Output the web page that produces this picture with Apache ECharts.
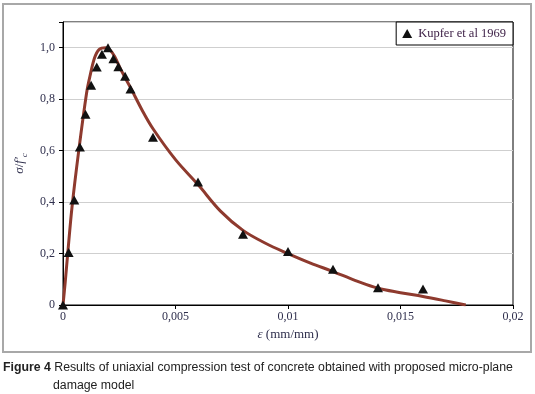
<!DOCTYPE html>
<html>
<head>
<meta charset="utf-8">
<script src="https://cdn.jsdelivr.net/npm/echarts@6/dist/echarts.min.js"></script>
<style>
  html, body { margin: 0; padding: 0; background: #fff; }
  #chart { width: 535px; height: 394px; }
</style>
</head>
<body>
<div id="chart"></div>
<script>
// test points (Kupfer et al 1969)
const testStrain = [0, 0.00025, 0.0005, 0.00075, 0.001, 0.00125, 0.0015, 0.00173, 0.002, 0.00224,
  0.00246, 0.00276, 0.003, 0.004, 0.006, 0.008, 0.010, 0.012, 0.014, 0.016];
const testStress = [0, 0.204, 0.408, 0.614, 0.741, 0.854, 0.925, 0.975, 1.0, 0.957,
  0.926, 0.889, 0.84, 0.652, 0.478, 0.275, 0.208, 0.139, 0.067, 0.062];

// model curve
const modelStrain = [0, 0.0001, 0.0002, 0.0004, 0.0007, 0.00105, 0.0012, 0.0014, 0.0016, 0.0019,
  0.0021, 0.0023, 0.0026, 0.003, 0.0035, 0.004, 0.005, 0.006, 0.007, 0.008,
  0.009, 0.010, 0.011, 0.012, 0.013, 0.014, 0.015, 0.016, 0.017, 0.0179];
const modelStress = [0, 0.09, 0.19, 0.38, 0.6, 0.825, 0.89, 0.96, 0.993, 1.0,
  0.99, 0.965, 0.91, 0.845, 0.76, 0.685, 0.565, 0.468, 0.365, 0.29,
  0.24, 0.2, 0.163, 0.13, 0.095, 0.065, 0.048, 0.033, 0.016, 0];

const xTicks = { min: 0, max: 0.02, step: 0.005 };
const yTicks = { min: 0, max: 1.1, step: 0.2, lastLabel: 1.0 };

const legendName = 'Kupfer et al 1969';
const captionBold = 'Figure 4';
const captionLine1 = ' Results of uniaxial compression test of concrete obtained with proposed micro-plane';
const captionLine2 = 'damage model';

function comma(v) {
  return String(Math.round(v * 1e6) / 1e6).replace('.', ',');
}

const chart = echarts.init(document.getElementById('chart'), null, { renderer: 'canvas' });
const serif = '"Liberation Serif", "DejaVu Serif", serif';
const labelColor = '#2f2f4d';

const option = {
  backgroundColor: '#fff',
  animation: false,
  grid: {
    left: 63, top: 22, right: 22, bottom: 89,
    show: true, borderColor: '#000', borderWidth: 1, backgroundColor: 'transparent'
  },
  legend: {
    right: 22, top: 22,
    orient: 'horizontal',
    data: [{ name: legendName, icon: 'triangle' }],
    itemWidth: 10, itemHeight: 9, itemGap: 0,
    padding: [5, 7, 5, 6],
    borderColor: '#000', borderWidth: 1, backgroundColor: '#fff',
    textStyle: { fontFamily: serif, fontSize: 12.5, color: '#3e2147', padding: [0, 0, 0, 1] }
  },
  xAxis: {
    type: 'value',
    min: xTicks.min, max: xTicks.max, interval: xTicks.step,
    name: '{i|ε} (mm/mm)',
    nameLocation: 'middle', nameGap: 20,
    nameTextStyle: {
      fontFamily: serif, fontSize: 13, color: labelColor,
      rich: { i: { fontFamily: serif, fontStyle: 'italic', fontSize: 13, color: labelColor } }
    },
    axisLine: { show: true, lineStyle: { color: '#000', width: 1 } },
    axisTick: { show: true, inside: false, length: 4, lineStyle: { color: '#000' } },
    axisLabel: { formatter: comma, fontFamily: serif, fontSize: 12, color: labelColor, margin: 6 },
    splitLine: { show: false }
  },
  yAxis: {
    type: 'value',
    min: yTicks.min, max: yTicks.max, interval: yTicks.step,
    name: '{i|σ}{n|/}{i|f′}{s|c}',
    nameLocation: 'middle', nameGap: 33, nameRotate: 90,
    nameTextStyle: {
      fontFamily: serif, fontSize: 13, color: labelColor,
      rich: {
        i: { fontFamily: serif, fontStyle: 'italic', fontSize: 13, color: labelColor },
        n: { fontFamily: serif, fontSize: 13, color: labelColor },
        s: { fontFamily: serif, fontStyle: 'italic', fontSize: 9, color: labelColor, verticalAlign: 'bottom', padding: [0, 0, -3, 0] }
      }
    },
    axisLine: { show: true, lineStyle: { color: '#000', width: 1 } },
    axisTick: { show: true, inside: false, length: 4, lineStyle: { color: '#000' } },
    axisLabel: {
      fontFamily: serif, fontSize: 12, color: labelColor, margin: 8,
      formatter: function (v) {
        if (v > yTicks.lastLabel + 0.01) return '';
        return v === 0 ? '0' : v.toFixed(1).replace('.', ',');
      }
    },
    splitLine: { show: true, lineStyle: { color: '#cfcfcf', width: 1 } }
  },
  graphic: [
    {
      type: 'rect', z: -10, silent: true,
      shape: { x: 3, y: 4, width: 528, height: 348 },
      style: { fill: 'none', stroke: '#a8a8a8', lineWidth: 2 }
    },
    {
      type: 'text', left: 3, top: 362, silent: true,
      style: {
        text: '{b|' + captionBold + '}{r|' + captionLine1 + '}',
        rich: {
          b: { fontFamily: '"Liberation Sans", sans-serif', fontWeight: 'bold', fontSize: 12.3, fill: '#222' },
          r: { fontFamily: '"Liberation Sans", sans-serif', fontSize: 12.3, fill: '#222' }
        }
      }
    },
    {
      type: 'text', left: 53, top: 380, silent: true,
      style: {
        text: captionLine2,
        font: '12.3px "Liberation Sans", sans-serif', fill: '#222'
      }
    }
  ],
  series: [
    {
      name: 'model',
      type: 'line',
      data: modelStrain.map((x, i) => [x, modelStress[i]]),
      smooth: 0.35,
      showSymbol: false,
      lineStyle: { color: '#8e3a2e', width: 3 },
      z: 2
    },
    {
      name: legendName,
      type: 'scatter',
      data: testStrain.map((x, i) => [x, testStress[i]]),
      symbol: 'triangle',
      symbolSize: [10, 9],
      itemStyle: { color: '#111', opacity: 1 },
      z: 3
    }
  ]
};

chart.setOption(option);
</script>
</body>
</html>
